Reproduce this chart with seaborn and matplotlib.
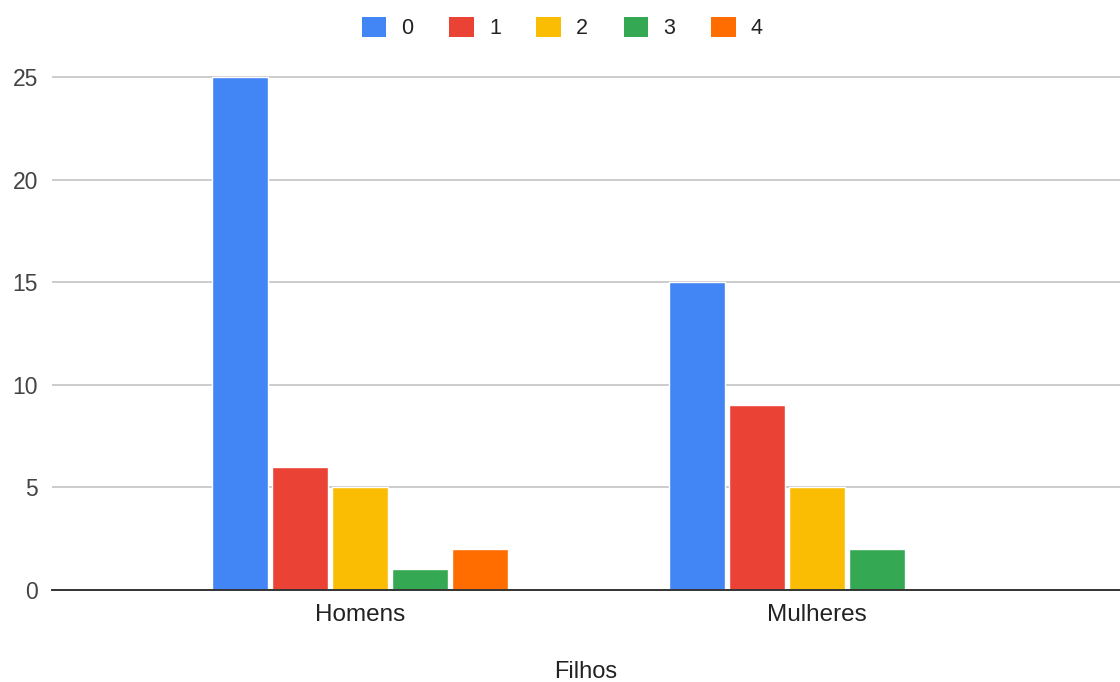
import matplotlib
matplotlib.use("Agg")
import matplotlib.pyplot as plt
import matplotlib.patches as mpatches
import seaborn as sns
import pandas as pd

# Data
groups = ["Homens", "Mulheres"]
children_levels = ["0", "1", "2", "3", "4"]
homens_values = [25, 6, 5, 1, 2]
mulheres_values = [15, 9, 5, 2, 0]
colors = ["#4285F4", "#EA4335", "#FBBC04", "#34A853", "#FF6D01"]
y_ticks = [0, 5, 10, 15, 20, 25]
x_title = "Filhos"

rows = []
for lvl, hv, mv in zip(children_levels, homens_values, mulheres_values):
    rows.append({"grupo": "Homens", "filhos": lvl, "valor": hv})
    rows.append({"grupo": "Mulheres", "filhos": lvl, "valor": mv})
df = pd.DataFrame(rows)

sns.set_theme(style="white")
plt.rcParams["font.family"] = ["Liberation Sans", "DejaVu Sans"]

W, H = 1120, 682
fig = plt.figure(figsize=(W / 100, H / 100), dpi=100)
ax_bottom_px, ax_top_px = 590, 590 - 25.5 * (513 / 25)
ax = fig.add_axes([52 / W, (H - ax_bottom_px) / H, (W - 52) / W,
                   (ax_bottom_px - ax_top_px) / H])

sns.barplot(data=df, x="grupo", y="valor", hue="filhos", order=groups,
            hue_order=children_levels, palette=colors, width=0.656, gap=0.067,
            saturation=1, legend=False, ax=ax, zorder=3)

ax.set_xlim(-0.674, 1.663)
ax.set_ylim(0, 25.5)
ax.set_yticks(y_ticks)
ax.yaxis.grid(True, color="#cccccc", linewidth=1.4, zorder=0)
ax.xaxis.grid(False)
for s in ["left", "right", "top"]:
    ax.spines[s].set_visible(False)
ax.spines["bottom"].set_color("#333333")
ax.spines["bottom"].set_linewidth(1.4)
ax.spines["bottom"].set_zorder(4)
ax.tick_params(axis="y", length=0, pad=10, labelsize=16.5, labelcolor="#444444")
ax.tick_params(axis="x", length=0, pad=10, labelsize=17.5, labelcolor="#222222")
ax.set_ylabel("")
ax.set_xlabel(x_title, fontsize=17, color="#222222", labelpad=25)

handles = [mpatches.Patch(facecolor=c, edgecolor="none", label=l)
           for c, l in zip(colors, children_levels)]
fig.legend(handles=handles, loc="center", bbox_to_anchor=(0.502, 0.959),
           ncol=5, frameon=False, fontsize=15.5, handlelength=1.15,
           handleheight=1.1, handletextpad=0.7, columnspacing=1.65,
           labelcolor="#222222")

fig.savefig("out.png", dpi=100)
